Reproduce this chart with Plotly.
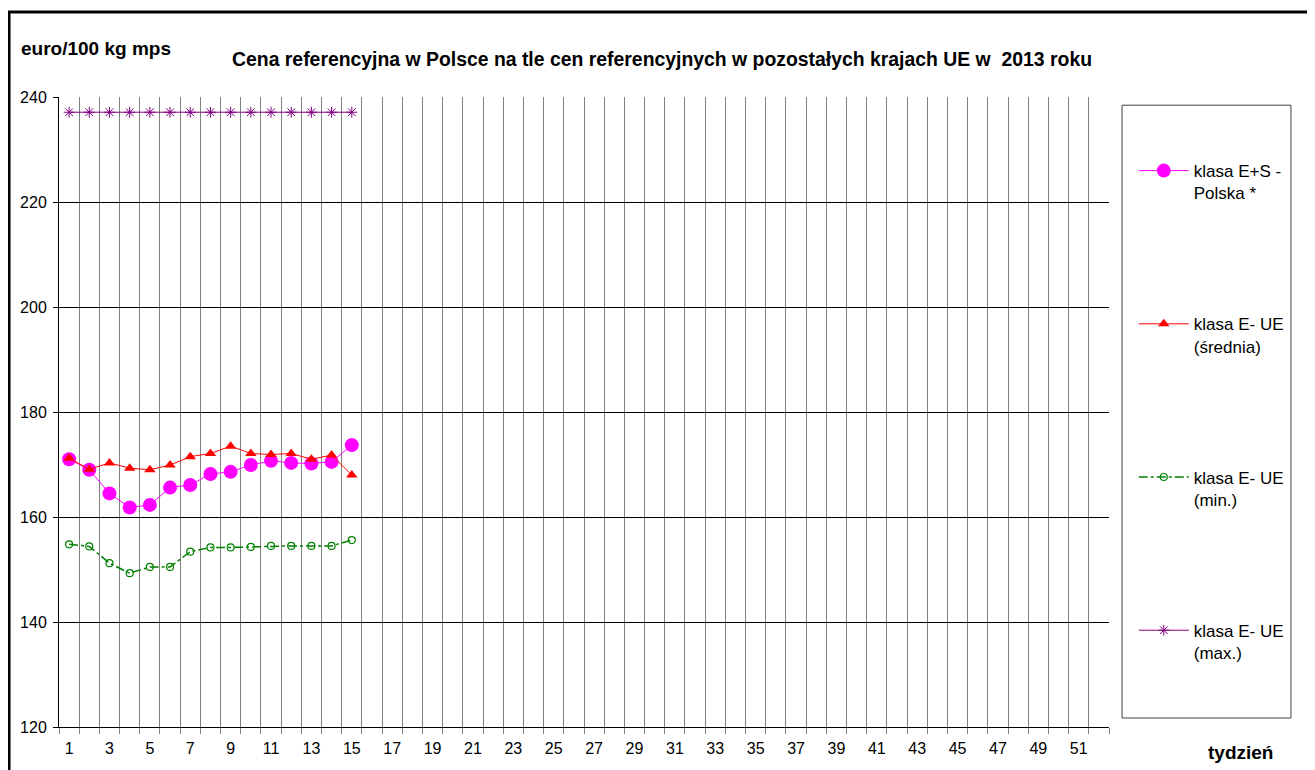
import plotly.graph_objects as go

weeks = list(range(1, 53))
weeks_data = list(range(1, 16))

polska_es = [171.0, 169.0, 164.5, 161.8, 162.3, 165.6, 166.1, 168.2, 168.6, 169.9,
             170.7, 170.3, 170.2, 170.5, 173.7]
ue_srednia = [171.2, 169.1, 170.3, 169.3, 169.0, 169.9, 171.5, 172.1, 173.5, 172.1,
              171.9, 172.1, 171.0, 171.8, 168.0]
ue_min = [154.8, 154.4, 151.2, 149.3, 150.5, 150.5, 153.4, 154.2, 154.2, 154.3,
          154.5, 154.5, 154.5, 154.5, 155.6]
ue_max = [237.1] * 15

x_labels = [str(w) for w in weeks if w % 2 == 1]
x_label_vals = [w for w in weeks if w % 2 == 1]

font_family = "Liberation Sans, Arial, sans-serif"

fig = go.Figure()

fig.add_trace(go.Scatter(
    x=weeks_data, y=polska_es, name="klasa E+S -<br>Polska *",
    mode="lines+markers",
    line=dict(color="#FF00FF", width=1),
    marker=dict(symbol="circle", size=14, color="#FF00FF"),
    legendgroup="a"))

fig.add_trace(go.Scatter(
    x=weeks_data, y=ue_srednia, name="klasa E- UE<br>(średnia)",
    mode="lines+markers",
    line=dict(color="#FF0000", width=1),
    marker=dict(symbol="triangle-up", size=10, color="#FF0000"),
    legendgroup="b"))

fig.add_trace(go.Scatter(
    x=weeks_data, y=ue_min, name="klasa E- UE<br>(min.)",
    mode="lines+markers",
    line=dict(color="#008000", width=1.5, dash="dashdot"),
    marker=dict(symbol="circle-open", size=7, color="#008000", line=dict(width=1.2)),
    legendgroup="c"))

fig.add_trace(go.Scatter(
    x=weeks_data, y=ue_max, name="klasa E- UE<br>(max.)",
    mode="lines+markers",
    line=dict(color="#800080", width=1),
    marker=dict(symbol="asterisk-open", size=9, color="#800080", line=dict(width=1, color="#800080")),
    legendgroup="d"))

fig.update_xaxes(
    range=[0.5, 52.5],
    tickmode="array", tickvals=x_label_vals, ticktext=x_labels,
    ticks="", showgrid=False,
    showline=True, linecolor="black", linewidth=1,
    ticklabelstandoff=7,
    tickfont=dict(family=font_family, size=16, color="black"),
    minor=dict(tick0=0.5, dtick=1, ticks="outside", ticklen=6, tickcolor="#808080",
               showgrid=True, gridcolor="#808080", gridwidth=1),
    zeroline=False)

fig.update_yaxes(
    range=[120, 240], dtick=20,
    showgrid=True, gridcolor="black", gridwidth=1,
    ticks="outside", ticklen=5, tickcolor="black",
    showline=True, linecolor="black", linewidth=1,
    ticklabelstandoff=3,
    tickfont=dict(family=font_family, size=16, color="black"),
    zeroline=False)

# outer frame and legend box
fig.add_shape(type="rect", xref="paper", yref="paper",
              x0=-0.0476, x1=1.3, y0=-0.3, y1=1.135,
              line=dict(color="black", width=3), layer="below")
fig.add_shape(type="rect", xref="paper", yref="paper",
              x0=1.0124, x1=1.1733, y0=0.0143, y1=0.987,
              line=dict(color="#404040", width=1))

fig.add_annotation(text="<b>Cena referencyjna w Polsce na tle cen referencyjnych w pozostałych krajach UE w  2013 roku</b>",
                   xref="paper", yref="paper", x=0.574, y=1.0603,
                   xanchor="center", yanchor="middle", showarrow=False,
                   font=dict(family=font_family, size=19.4, color="black"))
fig.add_annotation(text="<b>euro/100 kg mps</b>",
                   xref="paper", yref="paper", x=-0.038, y=1.077,
                   xanchor="left", yanchor="middle", showarrow=False,
                   font=dict(family=font_family, size=19, color="black"))
fig.add_annotation(text="<b>tydzień</b>",
                   xref="paper", yref="paper", x=1.1248, y=-0.0397,
                   xanchor="center", yanchor="middle", showarrow=False,
                   font=dict(family=font_family, size=19, color="black"))

# page body has an 8px margin, so shift the plot area up/left by 8px
fig.update_layout(
    width=1315, height=770,
    margin=dict(l=51, r=214, t=89, b=51),
    paper_bgcolor="white", plot_bgcolor="white",
    font=dict(family=font_family, size=13, color="black"),
    legend=dict(x=1.0236, y=0.911, xanchor="left", yanchor="top",
                bgcolor="rgba(0,0,0,0)", tracegroupgap=106, valign="top",
                font=dict(family=font_family, size=17, color="black"),
                itemwidth=50),
    showlegend=True)

fig.write_html("out.html")
